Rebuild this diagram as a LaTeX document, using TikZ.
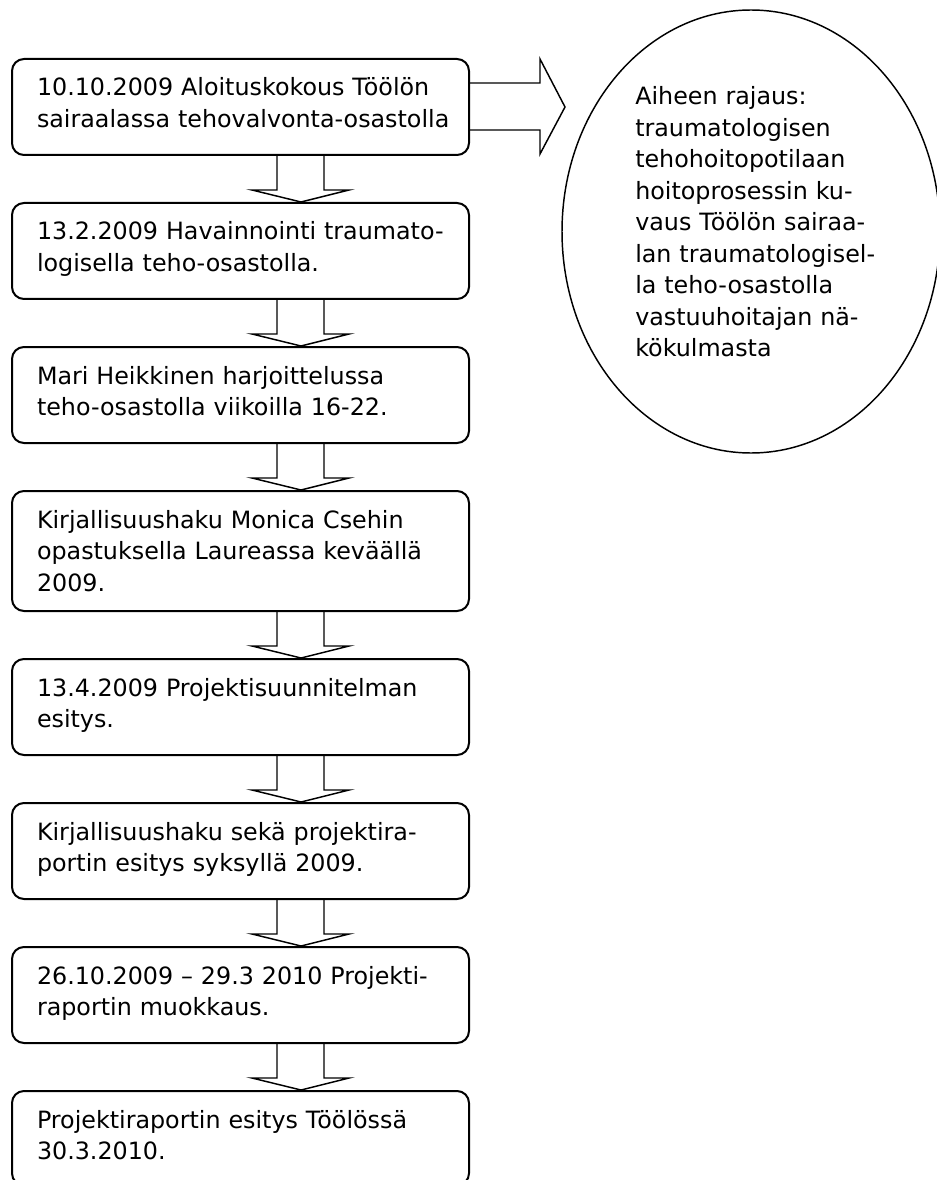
\documentclass[tikz,border=0pt]{standalone}
\usepackage{fontspec}
\setmainfont{DejaVu Sans}
\usetikzlibrary{shapes.geometric,calc}
\begin{document}
\begin{tikzpicture}[x=0.75pt,y=-0.75pt,
  txt/.style={font=\fontsize{17.85pt}{23.625pt}\selectfont},
  stepbox/.style={txt,draw,line width=1.5pt,rounded corners=9pt,anchor=north west,
    inner xsep=18.75pt,inner ysep=0pt,text width=305.25pt,align=left,
    text height=27.75pt,text depth=44.25pt},
  tallbox/.style={stepbox,text depth=62.25pt},
  blockarrow/.style={draw,line width=1.1pt,line join=miter},
  oval/.style={draw,ellipse,line width=1.1pt,inner sep=0pt,minimum width=283.5pt,minimum height=332.25pt}]
\useasboundingbox (0,0) rectangle (937,1180);

\node[stepbox] (b1) at (11,58) {\mbox{10.10.2009 Aloituskokous Töölön}\\\mbox{sairaalassa tehovalvonta-osastolla}};
\node[stepbox] (b2) at (11,202) {\mbox{13.2.2009 Havainnointi traumato-}\\\mbox{logisella teho-osastolla.}};
\node[stepbox] (b3) at (11,346) {\mbox{Mari Heikkinen harjoittelussa}\\\mbox{teho-osastolla viikoilla 16-22.}};
\node[tallbox] (b4) at (11,490) {\mbox{Kirjallisuushaku Monica Csehin}\\\mbox{opastuksella Laureassa keväällä}\\2009.};
\node[stepbox] (b5) at (11,658) {\mbox{13.4.2009 Projektisuunnitelman}\\esitys.};
\node[stepbox] (b6) at (11,802) {\mbox{Kirjallisuushaku sekä projektira-}\\\mbox{portin esitys syksyllä 2009.}};
\node[stepbox] (b7) at (11,946) {\mbox{26.10.2009 – 29.3 2010 Projekti-}\\\mbox{raportin muokkaus.}};
\node[stepbox,text depth=43pt] (b8) at (11,1090) {\mbox{Projektiraportin esitys Töölössä}\\30.3.2010.};

\node[oval] (ov) at (751,231.5) {};
\node[txt,anchor=base west,inner sep=0pt,text width=200pt,align=left] (ovt) at ($(ov.center)+(-116,-126.5)$)
  {Aiheen rajaus:\\traumatologisen\\tehohoitopotilaan\\\mbox{hoitoprosessin ku-}\\\mbox{vaus Töölön sairaa-}\\\mbox{lan traumatologisel-}\\\mbox{la teho-osastolla}\\\mbox{vastuuhoitajan nä-}\\kökulmasta};

\foreach \a/\b in {b1/b2,b2/b3,b3/b4,b4/b5,b5/b6,b6/b7,b7/b8}{
  \draw[blockarrow] ($(\a.south)+(36.5,0)$) -- ($(\b.north)+(36.5,-12)$) -- ($(\b.north)+(11.5,-12)$)
    -- ($(\b.north)+(60.5,0)$) -- ($(\b.north)+(108.5,-12)$) -- ($(\b.north)+(83.5,-12)$) -- ($(\a.south)+(83.5,0)$);
}

\coordinate (tip) at ($(b1.east)+(95,0)$);
\draw[blockarrow] ($(b1.east)+(0,-24)$) -- ($(b1.east)+(70,-24)$) -- ($(b1.east)+(70,-48)$) -- (tip)
  -- ($(b1.east)+(70,47)$) -- ($(b1.east)+(70,23)$) -- ($(b1.east)+(0,23)$);
\end{tikzpicture}
\end{document}
